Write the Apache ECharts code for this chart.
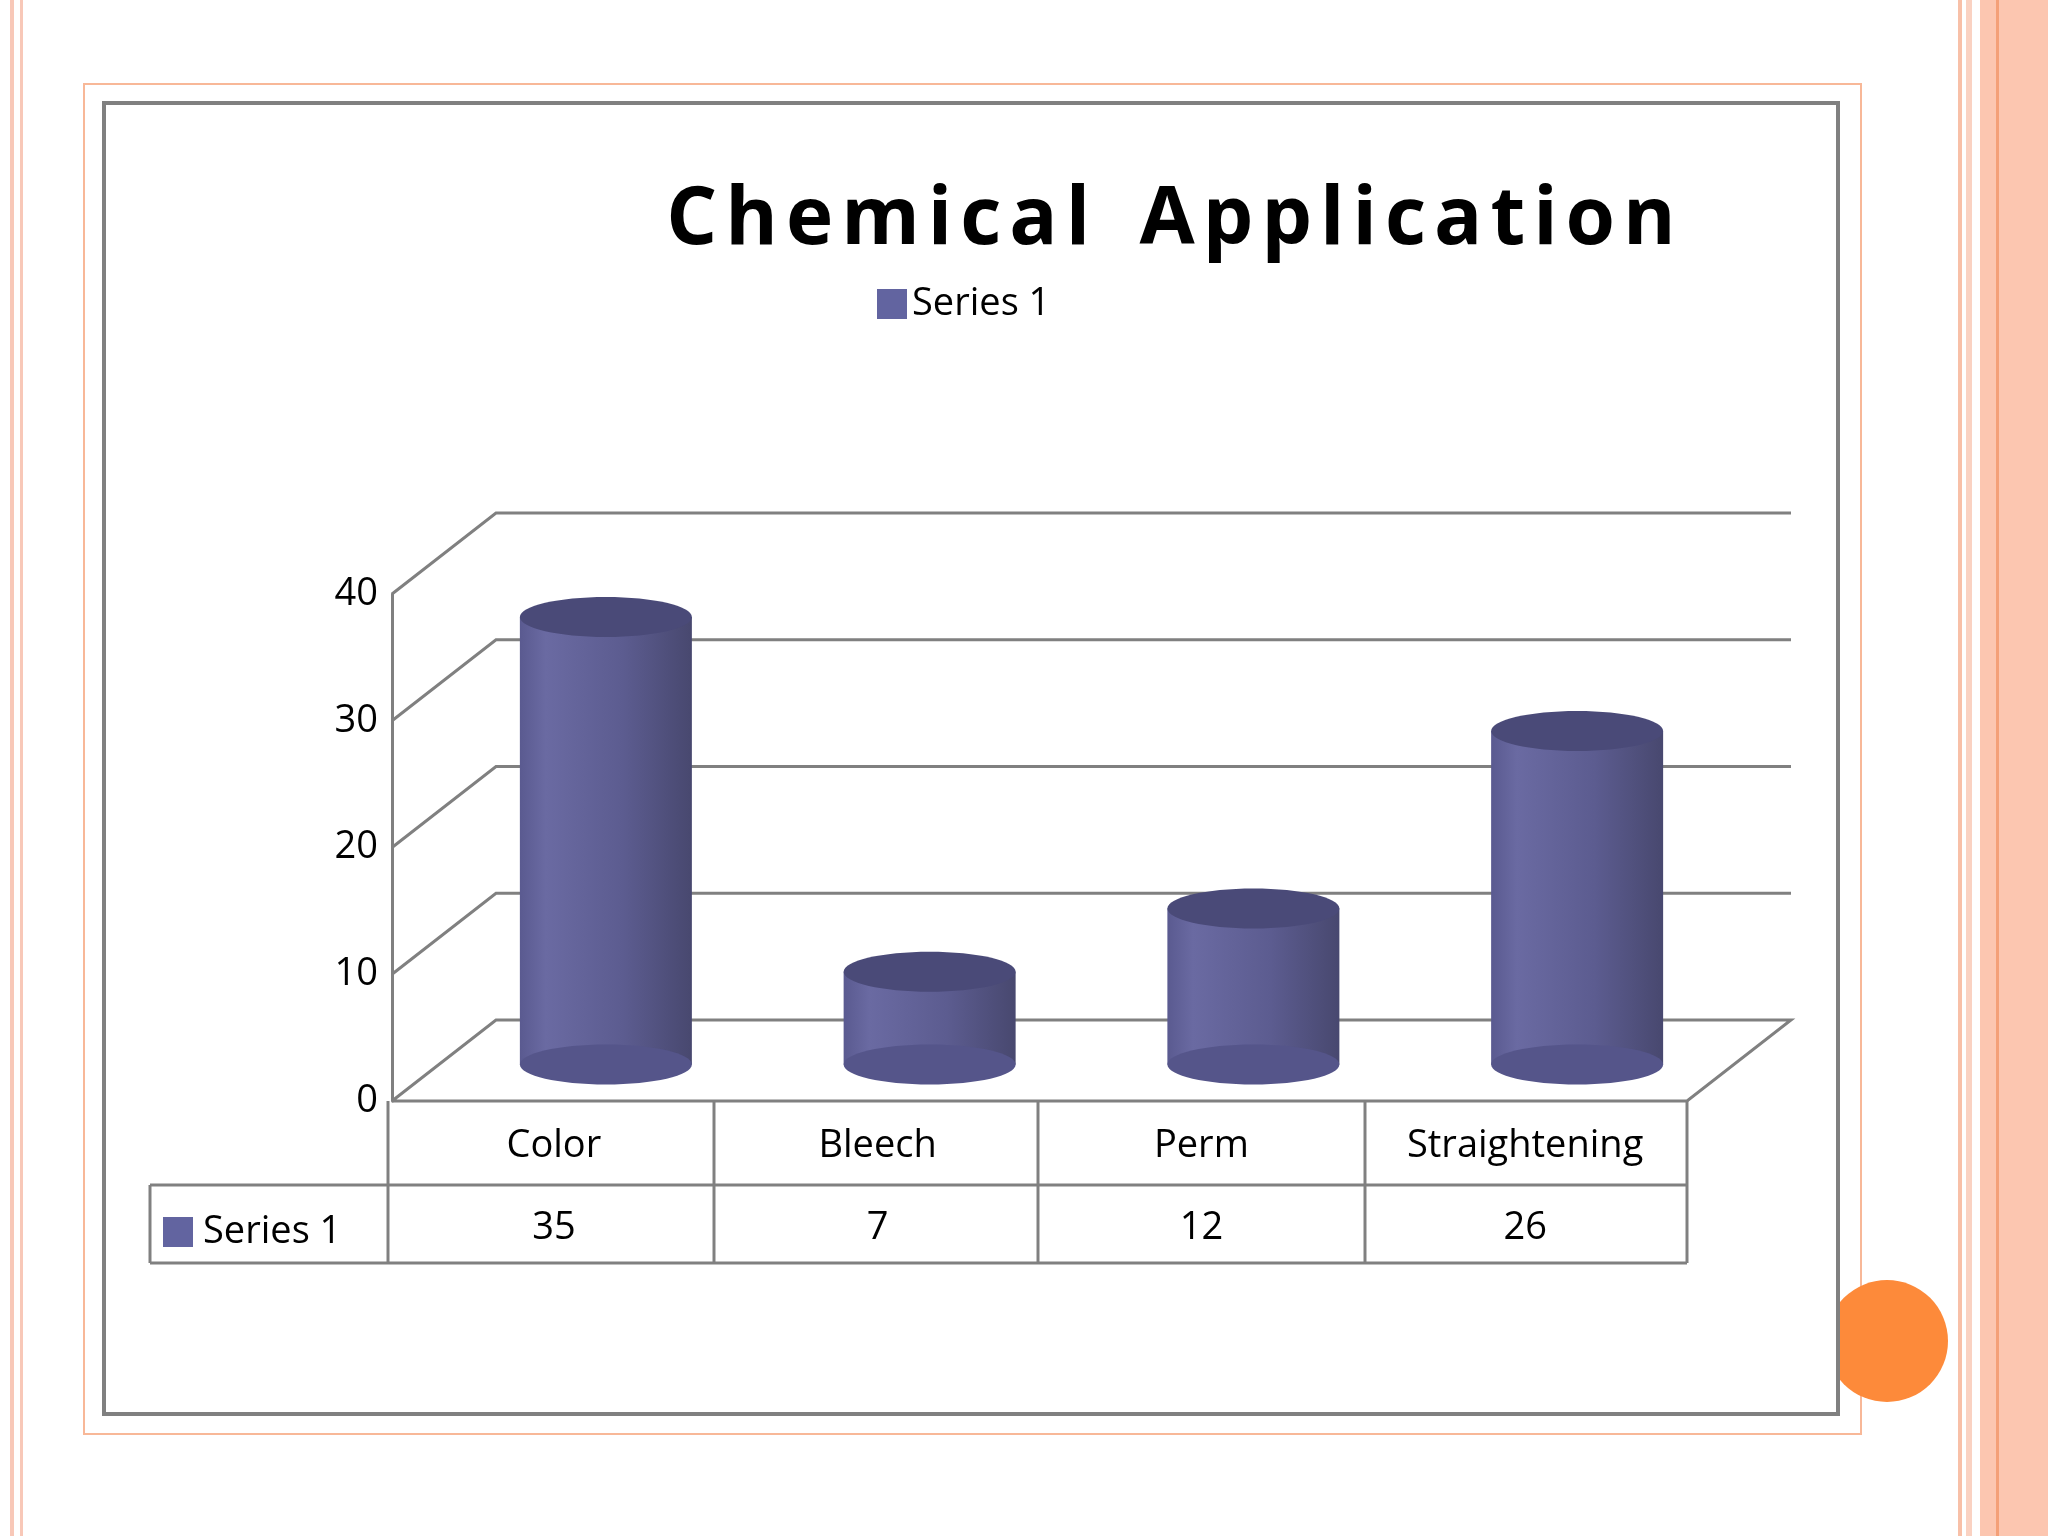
<!DOCTYPE html>
<html>
<head>
<meta charset="utf-8">
<script src="https://cdn.jsdelivr.net/npm/echarts@6/dist/echarts.min.js"></script>
<style>
  html, body { margin: 0; padding: 0; background: #fff; }
  #main { width: 2048px; height: 1536px; }
</style>
</head>
<body>
<div id="main"></div>
<script>
var categories = ['Color', 'Bleech', 'Perm', 'Straightening'];
var values = [35, 7, 12, 26];
var ticks = [0, 10, 20, 30, 40];
var seriesName = 'Series 1';

var DX = 104, DY = -81;     // depth offset of the back wall
var LINE = '#808080';
var FONT = '"Open Sans", Lato, sans-serif';

var chart = echarts.init(document.getElementById('main'));

// back walls and floor, one polyline per tick value
function renderWalls(params, api) {
  var v = api.value(0);
  var p = api.coord([categories[0], v]);
  var left = params.coordSys.x;
  var right = left + params.coordSys.width;
  var y = p[1];
  var pts = [[left, y], [left + DX, y + DY], [right + DX, y + DY]];
  if (v === 0) {
    pts.push([right, y]);
    pts.push([left, y]);
  }
  return {
    type: 'polyline',
    shape: { points: pts },
    style: { stroke: LINE, lineWidth: 3, fill: null }
  };
}

// cylinders
function renderBars(params, api) {
  var c = api.coord([api.value(0), api.value(1)]);
  var base = api.coord([api.value(0), 0]);
  var w = 172, ry = 20;
  var cx = c[0] + DX * 0.5;
  var top = c[1] + DY * 0.5;
  var bottom = base[1] + DY * 0.45;
  var x0 = cx - w / 2;
  return {
    type: 'group',
    children: [
      {
        type: 'rect',
        shape: { x: x0, y: top, width: w, height: bottom - top },
        style: {
          fill: new echarts.graphic.LinearGradient(0, 0, 1, 0, [
            { offset: 0, color: '#5a5a90' },
            { offset: 0.15, color: '#6a6aa2' },
            { offset: 0.6, color: '#5c5c90' },
            { offset: 1, color: '#48486f' }
          ])
        }
      },
      {
        type: 'ellipse',
        shape: { cx: cx, cy: bottom, rx: w / 2, ry: ry },
        style: { fill: '#55558a' }
      },
      {
        type: 'ellipse',
        shape: { cx: cx, cy: top, rx: w / 2, ry: ry },
        style: { fill: '#4a4a78' }
      }
    ]
  };
}

// value row of the data table
function renderTable(params, api) {
  var c = api.coord([api.value(0), 0]);
  return {
    type: 'text',
    style: {
      text: String(api.value(1)),
      x: c[0], y: 1228,
      fill: '#000', font: '38px ' + FONT,
      align: 'center', verticalAlign: 'middle'
    }
  };
}

var tableCols = [388, 714, 1038, 1365, 1687];
var graphics = [
  { type: 'rect', shape: { x: 10, y: 0, width: 4, height: 1536 }, style: { fill: '#f8c8b8' } },
  { type: 'rect', shape: { x: 20, y: 0, width: 3, height: 1536 }, style: { fill: '#f8c8b8' } },
  { type: 'rect', shape: { x: 1958, y: 0, width: 4, height: 1536 }, style: { fill: '#f8c0a8' } },
  { type: 'rect', shape: { x: 1966, y: 0, width: 6, height: 1536 }, style: { fill: '#fad2c2' } },
  { type: 'rect', shape: { x: 1980, y: 0, width: 68, height: 1536 }, style: { fill: '#fcc6b0' } },
  { type: 'rect', shape: { x: 1996, y: 0, width: 3, height: 1536 }, style: { fill: '#f4a078' } },
  { type: 'rect', shape: { x: 84, y: 84, width: 1777, height: 1350 }, style: { fill: '#fff', stroke: '#f8b898', lineWidth: 2 } },
  { type: 'circle', shape: { cx: 1887, cy: 1341, r: 61 }, style: { fill: '#fd8a3a' } },
  { type: 'rect', shape: { x: 104, y: 103, width: 1734, height: 1311 }, style: { fill: '#fff', stroke: '#808080', lineWidth: 4 } },
  { type: 'line', shape: { x1: 150, y1: 1185, x2: 1687, y2: 1185 }, style: { stroke: LINE, lineWidth: 3 } },
  { type: 'line', shape: { x1: 150, y1: 1263, x2: 1687, y2: 1263 }, style: { stroke: LINE, lineWidth: 3 } },
  { type: 'line', shape: { x1: 150, y1: 1185, x2: 150, y2: 1263 }, style: { stroke: LINE, lineWidth: 3 } },
  { type: 'rect', shape: { x: 163, y: 1217, width: 30, height: 30 }, style: { fill: '#6264a0' } },
  { type: 'text', style: { text: seriesName, x: 203, y: 1232, fill: '#000', font: '38px ' + FONT, verticalAlign: 'middle' } }
];
tableCols.forEach(function (x) {
  graphics.push({ type: 'line', shape: { x1: x, y1: 1101, x2: x, y2: 1263 }, style: { stroke: LINE, lineWidth: 3 } });
});

chart.setOption({
  backgroundColor: '#fff',
  animation: false,
  graphic: { elements: graphics.map(function (g) { g.z = -10; g.silent = true; return g; }) },
  title: {
    text: 'C h e m i c a l   A p p l i c a t i o n'.replace(/ (?! )/g, '\u200a').replace(/   /g, ' '),
    left: 1166, top: 176, textAlign: 'center',
    textStyle: { fontFamily: FONT, fontWeight: 'bold', fontSize: 80, color: '#000' }
  },
  legend: {
    left: 872, top: 280,
    itemWidth: 30, itemHeight: 30,
    data: [{ name: seriesName, icon: 'rect' }],
    textStyle: { fontFamily: FONT, fontSize: 38, color: '#000' }
  },
  grid: { left: 392, right: 361, top: 594, height: 507 },
  xAxis: {
    type: 'category',
    data: categories,
    axisLine: { show: false },
    axisTick: { show: false },
    axisLabel: { fontFamily: FONT, fontSize: 38, color: '#000', margin: 26 }
  },
  yAxis: {
    type: 'value',
    min: 0, max: 40, interval: 10,
    axisLine: { show: true, lineStyle: { color: LINE, width: 3 } },
    axisTick: { show: false },
    splitLine: { show: false },
    axisLabel: { fontFamily: FONT, fontSize: 38, color: '#000', margin: 14 }
  },
  series: [
    {
      type: 'custom', name: 'walls', silent: true, z: 1,
      data: ticks.map(function (t) { return [t]; }),
      encode: { y: 0 },
      renderItem: renderWalls
    },
    {
      type: 'custom', name: seriesName, z: 3,
      itemStyle: { color: '#6264a0' },
      data: categories.map(function (c, i) { return [c, values[i]]; }),
      encode: { x: 0, y: 1 },
      renderItem: renderBars
    },
    {
      type: 'custom', name: 'table', silent: true, z: 3,
      data: categories.map(function (c, i) { return [c, values[i]]; }),
      encode: { x: 0, y: 1 },
      renderItem: renderTable
    }
  ]
});
</script>
</body>
</html>
